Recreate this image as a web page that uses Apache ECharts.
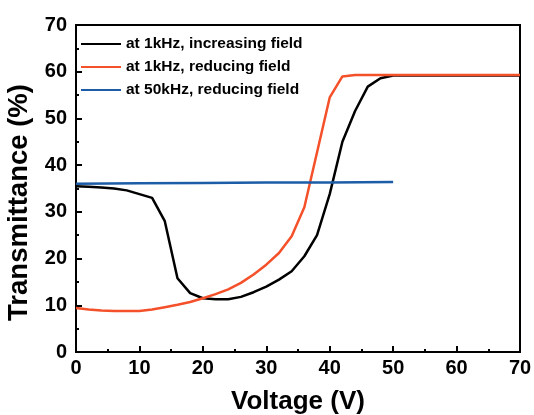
<!DOCTYPE html>
<html>
<head>
<meta charset="utf-8">
<script src="https://cdn.jsdelivr.net/npm/echarts@6/dist/echarts.min.js"></script>
<style>
  html, body { margin: 0; padding: 0; background: #fff; }
  #main { width: 534px; height: 415px; }
</style>
</head>
<body>
<div id="main"></div>
<script>
// data
var seriesNames = ['at 1kHz, increasing field', 'at 1kHz, reducing field', 'at 50kHz, reducing field'];

var voltIncr1k = [0, 2, 4, 6, 8, 10, 12, 14, 16, 18, 20, 22, 24, 26, 28, 30, 32, 34, 36, 38, 40, 42, 44, 46, 48, 50, 55, 60, 65, 70];
var transIncr1k = [35.5, 35.4, 35.2, 35.0, 34.6, 33.8, 33.0, 28.0, 15.8, 12.6, 11.5, 11.3, 11.3, 11.8, 12.8, 14.0, 15.5, 17.3, 20.5, 25.0, 33.8, 45.0, 51.6, 56.8, 58.6, 59.2, 59.2, 59.2, 59.2, 59.2];

var voltRed1k = [0, 2, 4, 6, 8, 10, 12, 14, 16, 18, 20, 22, 24, 26, 28, 30, 32, 34, 36, 40, 42, 44, 50, 60, 70];
var transRed1k = [9.4, 9.1, 8.9, 8.8, 8.8, 8.8, 9.1, 9.6, 10.1, 10.7, 11.5, 12.4, 13.4, 14.8, 16.6, 18.7, 21.2, 24.8, 31.0, 54.5, 59.0, 59.3, 59.3, 59.3, 59.3];

var voltRed50k = [0, 10, 20, 30, 40, 50];
var transRed50k = [36.0, 36.1, 36.2, 36.3, 36.3, 36.4];

var colors = ['#000000', '#f4502a', '#1d5ca6'];

function pairs(xs, ys) {
    var out = [];
    for (var i = 0; i < xs.length; i++) out.push([xs[i], ys[i]]);
    return out;
}

var myChart = echarts.init(document.getElementById('main'));

var axisFont = { fontFamily: 'Liberation Sans, Arial, sans-serif', fontWeight: 'bold', color: '#000' };

var option = {
    animation: false,
    color: colors,
    grid: {
        left: 76, right: 14, top: 25, bottom: 63,
        outerBoundsMode: 'none',
        containLabel: false,
        show: true, borderColor: '#000', borderWidth: 2
    },
    legend: {
        data: seriesNames,
        orient: 'vertical',
        left: 80,
        top: 36,
        padding: 0,
        itemWidth: 40,
        itemHeight: 14,
        itemGap: 7,
        itemStyle: { opacity: 0 },
        textStyle: { fontFamily: 'Liberation Sans, Arial, sans-serif', fontWeight: 'bold', fontSize: 15.5, color: '#000' }
    },
    xAxis: {
        type: 'value',
        min: 0, max: 70, interval: 10,
        name: 'Voltage (V)',
        nameLocation: 'middle',
        nameGap: 37,
        nameTextStyle: Object.assign({ fontSize: 26 }, axisFont),
        axisLine: { lineStyle: { color: '#000', width: 2 } },
        axisTick: { inside: true, length: 6, lineStyle: { width: 2, color: '#000' } },
        minorTick: { show: true, splitNumber: 2, length: 3, lineStyle: { width: 2, color: '#000' } },
        axisLabel: Object.assign({ fontSize: 20, margin: 6 }, axisFont),
        splitLine: { show: false }
    },
    yAxis: {
        type: 'value',
        min: 0, max: 70, interval: 10,
        name: 'Transmittance (%)',
        nameLocation: 'middle',
        nameGap: 39,
        nameTextStyle: Object.assign({ fontSize: 27.5, padding: [0, 28, 0, 0] }, axisFont),
        axisLine: { lineStyle: { color: '#000', width: 2 } },
        axisTick: { inside: true, length: 6, lineStyle: { width: 2, color: '#000' } },
        minorTick: { show: true, splitNumber: 2, length: 3, lineStyle: { width: 2, color: '#000' } },
        axisLabel: Object.assign({ fontSize: 20, margin: 9 }, axisFont),
        splitLine: { show: false }
    },
    series: [
        {
            name: seriesNames[0],
            type: 'line',
            symbol: 'none',
            lineStyle: { width: 2.5 },
            data: pairs(voltIncr1k, transIncr1k)
        },
        {
            name: seriesNames[1],
            type: 'line',
            symbol: 'none',
            lineStyle: { width: 2.5 },
            data: pairs(voltRed1k, transRed1k)
        },
        {
            name: seriesNames[2],
            type: 'line',
            symbol: 'none',
            lineStyle: { width: 2.5 },
            data: pairs(voltRed50k, transRed50k)
        }
    ]
};

myChart.setOption(option);
</script>
</body>
</html>
